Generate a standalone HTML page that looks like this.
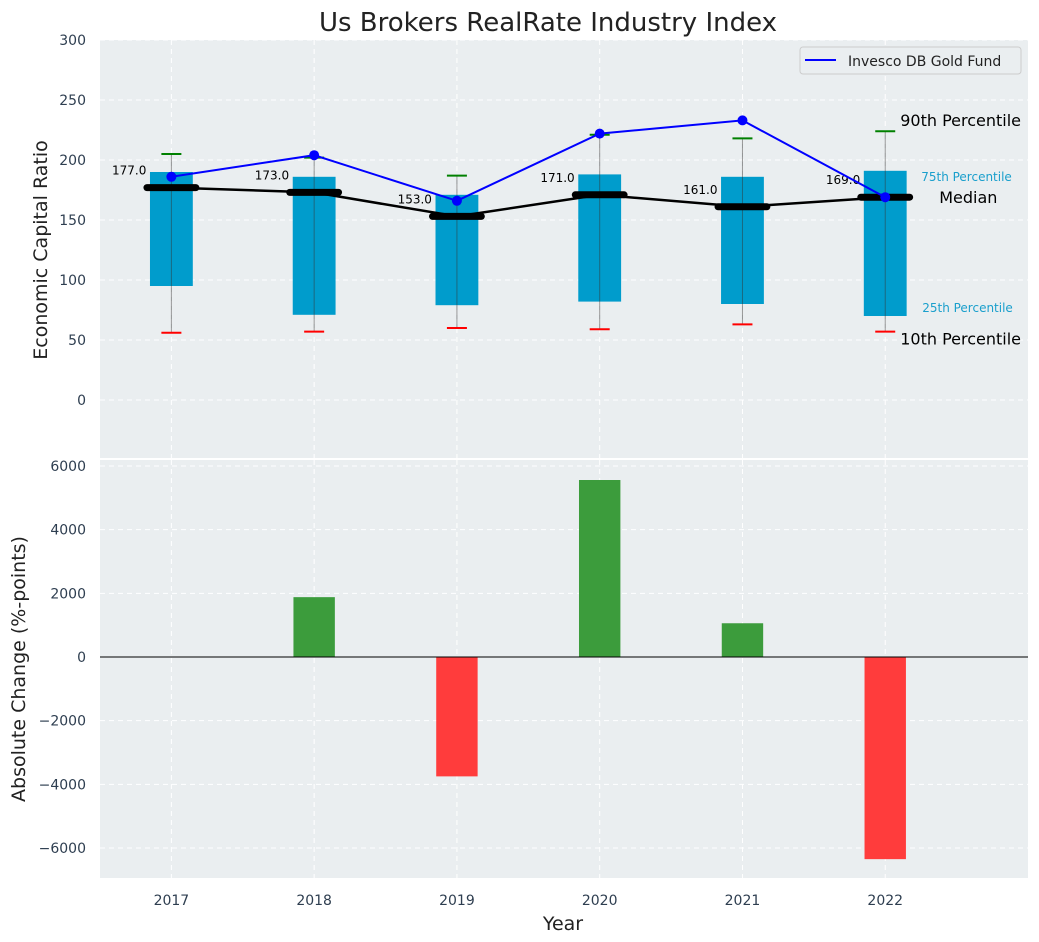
<!DOCTYPE html>
<html><head><meta charset="utf-8"><style>
body{margin:0;background:#fff}
svg{display:block;font-family:"DejaVu Sans","Liberation Sans",sans-serif}
</style></head><body>
<svg id="chart" width="1039" height="942"></svg>
<script>
const years=[2017,2018,2019,2020,2021,2022];
const q1=[95,71,79,82,80,70];
const q3=[190,186,171,188,186,191];
const medians=[177,173,153,171,161,169];
const p10=[56,57,60,59,63,57];
const p90=[205,202,187,221,218,224];
const gold=[186,204,166,222,233,169];
const changes=[0,1880,-3750,5560,1060,-6350];
const topTicks=[0,50,100,150,200,250,300];
const botTicks=[-6000,-4000,-2000,0,2000,4000,6000];

const NS='http://www.w3.org/2000/svg';
const svg=document.getElementById('chart');
function el(tag,attrs,parent){const e=document.createElementNS(NS,tag);for(const k in attrs)e.setAttribute(k,attrs[k]);(parent||svg).appendChild(e);return e;}
const L=100,R=1028;
const x=v=>L+(v-2016.5)/(2023-2016.5)*(R-L);
const yT=v=>400-v*1.2;
const yB=v=>657-v*191/6000;
const dx=x(2017.15)-x(2017);

let b=el('rect',{x:L,y:40,width:R-L,height:418,fill:'#eaeef0'});

b=el('rect',{x:L,y:460,width:R-L,height:418,fill:'#eaeef0'});


years.forEach(yr=>{
  el('line',{x1:x(yr),x2:x(yr),y1:40,y2:458,stroke:'#fff','stroke-dasharray':'5,4','stroke-width':1});
  el('line',{x1:x(yr),x2:x(yr),y1:460,y2:878,stroke:'#fff','stroke-dasharray':'5,4','stroke-width':1});
  const t=el('text',{x:x(yr),y:905,'text-anchor':'middle','font-size':14,fill:'#2e3e50'});t.textContent=yr;
  
});
topTicks.forEach(v=>{
  el('line',{x1:L,x2:R,y1:yT(v),y2:yT(v),stroke:'#fff','stroke-dasharray':'5,4'});
  const t=el('text',{x:86,y:yT(v)+5,'text-anchor':'end','font-size':14,fill:'#2e3e50'});t.textContent=v;
  
});
botTicks.forEach(v=>{
  el('line',{x1:L,x2:R,y1:yB(v),y2:yB(v),stroke:'#fff','stroke-dasharray':'5,4'});
  const t=el('text',{x:86,y:yB(v)+5,'text-anchor':'end','font-size':14,fill:'#2e3e50'});t.textContent=v<0?'\u2212'+(-v):v;
  
});

years.forEach((yr,i)=>{
  const r=el('rect',{x:x(yr)-dx,y:yT(q3[i]),width:2*dx,height:yT(q1[i])-yT(q3[i]),fill:'#009ccc'});
  
  el('line',{x1:x(yr),x2:x(yr),y1:yT(p10[i]),y2:yT(p90[i]),stroke:'#333','stroke-opacity':0.5,'stroke-width':1});
  const c1=el('line',{x1:x(yr)-10,x2:x(yr)+10,y1:yT(p90[i]),y2:yT(p90[i]),stroke:'green','stroke-width':2});
  
  const c2=el('line',{x1:x(yr)-10,x2:x(yr)+10,y1:yT(p10[i]),y2:yT(p10[i]),stroke:'red','stroke-width':2});
  
});
let ml=el('polyline',{points:years.map((yr,i)=>x(yr)+','+yT(medians[i])).join(' '),fill:'none',stroke:'#000','stroke-width':2.5});

years.forEach((yr,i)=>{
  const m=el('line',{x1:x(yr)-dx-3,x2:x(yr)+dx+3,y1:yT(medians[i]),y2:yT(medians[i]),stroke:'#000','stroke-width':7,'stroke-linecap':'round'});
  
  const t=el('text',{x:x(yr)-25,y:yT(medians[i])-13,'text-anchor':'end','font-size':12,fill:'#000'});t.textContent=medians[i].toFixed(1);
  
});
let gl=el('polyline',{points:years.map((yr,i)=>x(yr)+','+yT(gold[i])).join(' '),fill:'none',stroke:'#0000ff','stroke-width':2});

years.forEach((yr,i)=>{const c=el('circle',{cx:x(yr),cy:yT(gold[i]),r:5,fill:'#0000ff'});
  });

const li=years.length-1,lx=x(years[li]);
[['90th Percentile',p90[li],16,'#000',15,-5],['10th Percentile',p10[li],16,'#000',15,13],['Median',medians[li],16,'#000',54,6],['75th Percentile',q3[li],12,'#1a9fcc',36,10],['25th Percentile',q1[li],12,'#1a9fcc',37,-4]].forEach(a=>{
  const t=el('text',{x:lx+a[4],y:yT(a[1])+a[5],'font-size':a[2],fill:a[3]});t.textContent=a[0];
  
});

const lg=el('g',{});
el('rect',{x:800,y:47,width:221,height:27,rx:3,fill:'#eaeef0',stroke:'#ccc'},lg);
el('line',{x1:805,x2:836,y1:60,y2:60,stroke:'#0000ff','stroke-width':2},lg);
const lt=el('text',{x:848,y:66,'font-size':14,fill:'#222'},lg);lt.textContent='Invesco DB Gold Fund';

const bw=x(2017.145)-x(2017);
years.forEach((yr,i)=>{const v=changes[i];
  const r=el('rect',{x:x(yr)-bw,width:2*bw,y:Math.min(yB(v),yB(0)),height:Math.abs(yB(v)-yB(0)),fill:v>=0?'#3c9c3c':'#ff3c3c'});
  });
el('line',{x1:L,x2:R,y1:yB(0),y2:yB(0),stroke:'#000','stroke-width':1});

let t=el('text',{x:548,y:31,'text-anchor':'middle','font-size':26,fill:'#222'});t.textContent='Us Brokers RealRate Industry Index';

t=el('text',{x:563,y:930,'text-anchor':'middle','font-size':19,fill:'#222'});t.textContent='Year';

t=el('text',{x:0,y:0,'text-anchor':'middle','font-size':19,fill:'#222',transform:'translate(47,250) rotate(-90)'});t.textContent='Economic Capital Ratio';

t=el('text',{x:0,y:0,'text-anchor':'middle','font-size':19,fill:'#222',transform:'translate(25,669) rotate(-90)'});t.textContent='Absolute Change (%-points)';

</script>
</body></html>
